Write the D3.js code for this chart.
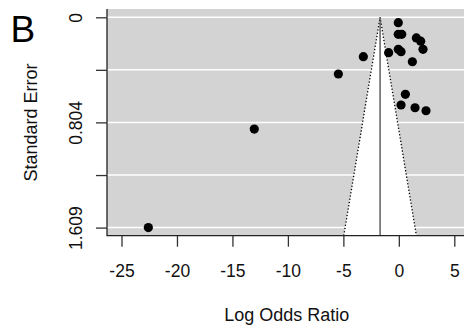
<!DOCTYPE html>
<html>
<head>
<meta charset="utf-8">
<script src="https://cdn.jsdelivr.net/npm/d3@7"></script>
<style>
html,body{margin:0;padding:0;background:#fff;}
svg{display:block;font-family:"Liberation Sans",Arial,Helvetica,sans-serif;}
</style>
</head>
<body>
<svg id="chart" width="464" height="332"></svg>
<script>
// ---- data ----
const logOdds = [-0.05, -0.05, 0.26, 1.58, 1.97, -3.20, -0.92, -0.05, 0.20, 2.18, 1.22, -5.45, 0.59, 0.20, 1.46, 2.45, -13.03, -22.58];
const stdErr  = [0.041, 0.130, 0.130, 0.158, 0.183, 0.301, 0.271, 0.245, 0.263, 0.245, 0.340, 0.434, 0.589, 0.671, 0.692, 0.715, 0.855, 1.609];
const pooledEstimate = -1.69;
const xTicks = [-25, -20, -15, -10, -5, 0, 5];
const xTickLabels = ["-25", "-20", "-15", "-10", "-5", "0", "5"];
const yTicks = [0, 0.402, 0.804, 1.207, 1.609];
const yTickLabels = ["0", "", "0.804", "", "1.609"];
const panelLabel = "B";
const xTitle = "Log Odds Ratio";
const yTitle = "Standard Error";

// ---- layout ----
const svg = d3.select("#chart");
const plot = {left: 107, right: 466, top: 9, bottom: 235.7};
const x = d3.scaleLinear().domain([-25, 5]).range([121.5, 454.3]);
const y = d3.scaleLinear().domain([0, 1.609]).range([17.3, 227.6]);

// background
svg.append("rect")
  .attr("x", plot.left).attr("y", plot.top)
  .attr("width", plot.right - plot.left).attr("height", plot.bottom - plot.top)
  .attr("fill", "#d3d3d3");

// horizontal gridlines
svg.append("g").selectAll("line").data(yTicks).join("line")
  .attr("x1", plot.left).attr("x2", plot.right)
  .attr("y1", d => y(d)).attr("y2", d => y(d))
  .attr("stroke", "#fff").attr("stroke-width", 1.5);

// funnel
const seMax = y.invert(plot.bottom);
const funnelPts = [
  [x(pooledEstimate - 1.96 * seMax), y(seMax)],
  [x(pooledEstimate), y(0)],
  [x(pooledEstimate + 1.96 * seMax), y(seMax)]
];
svg.append("path")
  .attr("d", d3.line()(funnelPts) + "Z")
  .attr("fill", "#fff").attr("stroke", "none");
svg.append("path")
  .attr("d", d3.line()(funnelPts))
  .attr("fill", "none").attr("stroke", "#000")
  .attr("stroke-width", 1.3).attr("stroke-dasharray", "1.3,2");
svg.append("line")
  .attr("x1", x(pooledEstimate)).attr("x2", x(pooledEstimate))
  .attr("y1", y(0)).attr("y2", plot.bottom)
  .attr("stroke", "#555").attr("stroke-width", 1.4);

// points
svg.append("g").selectAll("circle").data(logOdds).join("circle")
  .attr("cx", (d) => x(d))
  .attr("cy", (d, i) => y(stdErr[i]))
  .attr("r", 4.6)
  .attr("fill", "#000");

// L box
svg.append("path")
  .attr("d", `M${plot.left},${plot.top}V${plot.bottom}H${plot.right}`)
  .attr("fill", "none").attr("stroke", "#222").attr("stroke-width", 1.3);

// x axis
const xAxis = d3.axisBottom(x).tickValues(xTicks)
  .tickFormat((d, i) => xTickLabels[i]).tickSize(11).tickPadding(18);
const gx = svg.append("g").attr("transform", `translate(0,${plot.bottom})`).call(xAxis);
gx.select(".domain").remove();
gx.selectAll(".tick line").attr("stroke", "#333").attr("stroke-width", 1.3);
gx.selectAll(".tick text").attr("font-size", 17.5).attr("fill", "#111")
  .attr("font-family", "Liberation Sans, Arial, sans-serif");

// y axis
const yAxis = d3.axisLeft(y).tickValues(yTicks)
  .tickFormat((d, i) => yTickLabels[i]).tickSize(11).tickPadding(14);
const gy = svg.append("g").attr("transform", `translate(${plot.left},0)`).call(yAxis);
gy.select(".domain").remove();
gy.selectAll(".tick line").attr("stroke", "#333").attr("stroke-width", 1.3);
gy.selectAll(".tick text")
  .attr("font-size", 17.5).attr("fill", "#111")
  .attr("font-family", "Liberation Sans, Arial, sans-serif")
  .attr("x", null).attr("dy", null)
  .attr("text-anchor", "middle")
  .attr("transform", "translate(-25.5,0) rotate(-90)");

// titles
svg.append("text")
  .attr("x", 286.7).attr("y", 320.7)
  .attr("text-anchor", "middle").attr("font-size", 18).attr("fill", "#111")
  .text(xTitle);
svg.append("text")
  .attr("transform", "translate(37,122.5) rotate(-90)")
  .attr("text-anchor", "middle").attr("font-size", 18).attr("fill", "#111")
  .text(yTitle);
svg.append("text")
  .attr("x", 10.5).attr("y", 42)
  .attr("font-size", 37).attr("fill", "#000")
  .text(panelLabel);
</script>
</body>
</html>
